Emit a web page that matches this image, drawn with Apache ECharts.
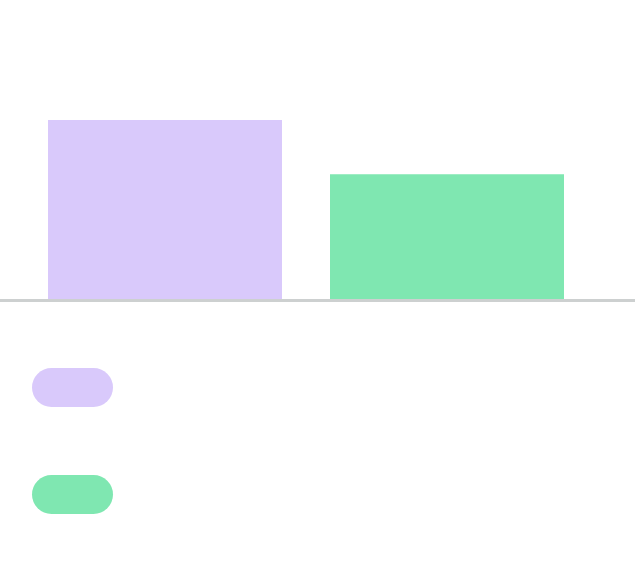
<!DOCTYPE html>
<html>
<head>
<meta charset="utf-8">
<script src="https://cdn.jsdelivr.net/npm/echarts@6/dist/echarts.min.js"></script>
<style>
    html, body {margin: 0; padding: 0; background: #fff;}
    #chart {width: 635px; height: 570px;}
</style>
</head>
<body>
<div id="chart"></div>
<script>
// data
const categories = ['A', 'B'];
const seriesNames = ['A', 'B'];
const firstValues = [100, '-'];
const secondValues = ['-', 70];
const colors = ['#d9c9fb', '#7fe7b1'];

// pill shape for legend icons (81 x 39)
const pillIcon = 'path://M19.5,0 H61.5 A19.5,19.5 0 0 1 61.5,39 H19.5 A19.5,19.5 0 0 1 19.5,0 Z';

const chart = echarts.init(document.getElementById('chart'));
const option = {
    animation: false,
    legend: {
        orient: 'vertical',
        left: 32,
        top: 368,
        padding: 0,
        itemWidth: 81,
        itemHeight: 39,
        itemGap: 68,
        icon: pillIcon,
        formatter: () => '',
        selectedMode: false,
        data: seriesNames
    },
    grid: [
        {left: 24, right: 47, top: 120, bottom: 269.5},
        {left: 0, right: 0, top: 120, bottom: 269.5}
    ],
    xAxis: [
        {
            type: 'category',
            gridIndex: 0,
            data: categories,
            axisLine: {show: false},
            axisTick: {show: false},
            axisLabel: {show: false}
        },
        {
            type: 'category',
            gridIndex: 1,
            data: [''],
            axisLine: {show: true, lineStyle: {color: '#cdd0d0', width: 3}},
            axisTick: {show: false},
            axisLabel: {show: false},
            z: 5
        }
    ],
    yAxis: [
        {type: 'value', gridIndex: 0, min: 0, max: 100, show: false},
        {type: 'value', gridIndex: 1, min: 0, max: 100, show: false}
    ],
    series: [
        {
            name: seriesNames[0],
            type: 'bar',
            barWidth: 234,
            barGap: '-100%',
            itemStyle: {color: colors[0]},
            data: firstValues
        },
        {
            name: seriesNames[1],
            type: 'bar',
            barWidth: 234,
            barGap: '-100%',
            itemStyle: {color: colors[1]},
            data: secondValues
        }
    ]
};
chart.setOption(option);
</script>
</body>
</html>
